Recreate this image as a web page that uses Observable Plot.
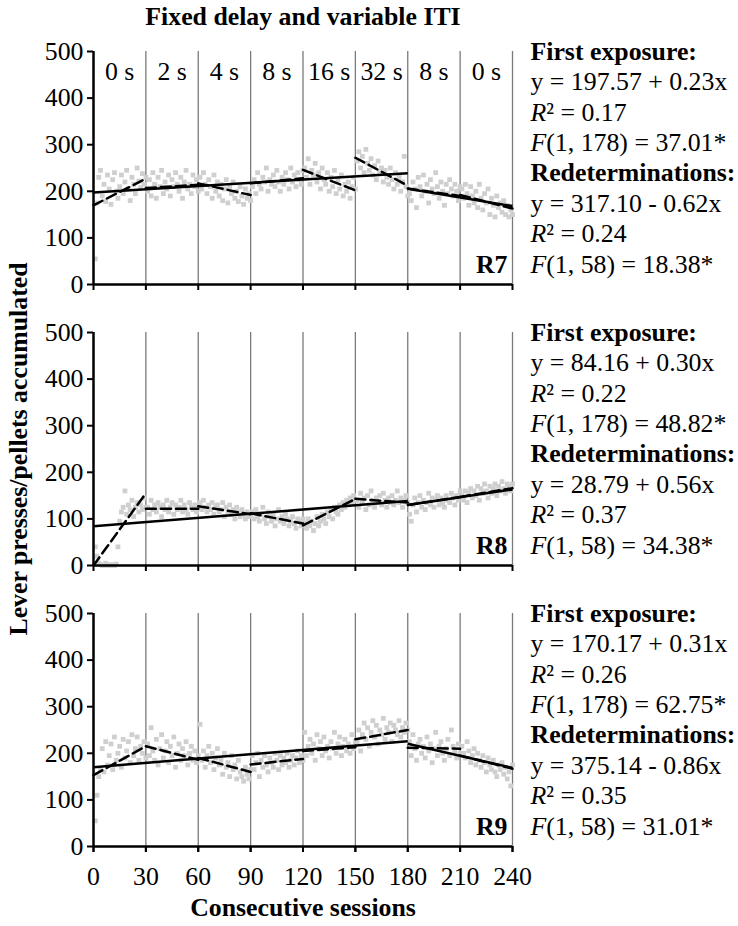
<!DOCTYPE html>
<html><head><meta charset="utf-8">
<script src="https://cdn.jsdelivr.net/npm/d3@7"></script>
<script src="https://cdn.jsdelivr.net/npm/@observablehq/plot@0.6"></script>
<style>body{margin:0;background:#fff}</style>
</head><body><div id="chart"></div>
<script>
const subjects = ["R7", "R8", "R9"];
const title = "Fixed delay and variable ITI";
const yLabel = "Lever presses/pellets accumulated";
const xLabel = "Consecutive sessions";
const phaseStarts = [0, 30, 60, 90, 120, 150, 180, 210];
const phaseLength = 30;
const phaseLabels = ["0 s", "2 s", "4 s", "8 s", "16 s", "32 s", "8 s", "0 s"];
const xTicks = [0, 30, 60, 90, 120, 150, 180, 210, 240];
const yTicks = [0, 100, 200, 300, 400, 500];

// daily values (sessions 1..240)
const r7 = [
  55,175,230,245,190,215,178,235,205,172, 225,240,200,185,210,235,195,220,245,205, 180,230,215,195,250,222,208,238,215,230,
  200,225,190,240,215,185,230,210,245,195, 220,205,235,190,225,210,240,215,200,230, 185,220,245,205,215,195,235,210,225,200,
  230,205,240,215,195,225,210,185,235,200, 220,190,215,180,205,225,175,210,195,220, 185,200,178,210,190,172,205,185,195,180,
  210,225,195,240,215,205,230,220,250,200, 225,215,235,210,245,220,200,230,215,240, 225,205,250,220,235,210,240,225,215,245,
  250,230,270,215,245,235,260,220,240,205, 250,225,215,240,200,230,210,245,195,225, 205,235,190,215,200,220,185,210,230,205,
  265,285,250,275,240,290,260,245,270,235, 255,225,265,240,250,220,245,230,215,250, 225,205,240,215,230,200,220,275,210,190,
  195,180,220,205,165,230,210,190,235,200, 215,175,225,205,195,240,210,185,220,200, 170,215,195,225,205,190,215,200,180,210,
  205,185,215,195,170,210,190,175,200,165, 215,185,160,195,175,205,150,185,170,145, 190,165,175,155,180,150,170,145,160,150
];
const r8 = [
  40,20,5,2,0,0,5,0,0,2, 0,0,3,40,95,115,125,160,110,130, 120,140,105,125,135,115,130,120,145,125,
  125,110,140,120,130,115,135,125,105,130, 120,140,115,125,135,110,130,120,125,140, 115,130,120,110,135,125,120,130,115,125,
  135,120,140,125,115,130,120,135,110,125, 130,115,120,135,105,125,115,130,110,120, 100,125,115,105,120,110,100,115,105,110,
  115,100,120,105,95,110,125,100,90,115, 105,95,110,85,100,120,95,105,90,110, 100,85,95,105,90,80,100,95,85,100,
  90,80,100,85,95,75,90,105,85,95, 110,100,90,115,105,120,100,125,115,110, 130,120,135,125,140,130,145,135,150,140,
  140,125,155,135,145,120,150,130,160,140, 125,145,135,150,130,155,140,125,145,135, 150,130,140,160,135,145,125,140,150,135,
  110,95,130,145,115,135,150,125,140,120, 135,155,130,145,125,140,150,130,145,135, 125,150,140,135,155,145,130,150,140,160,
  150,140,160,135,155,165,145,160,150,170, 140,165,155,175,160,145,170,155,165,175, 150,170,160,180,165,155,175,170,160,175
];
const r9 = [
  55,110,150,165,210,160,225,175,195,220, 165,235,185,200,215,170,230,190,205,225, 180,240,195,210,235,185,215,200,225,190,
  220,195,255,205,185,230,175,210,240,190, 205,225,180,215,195,235,170,200,220,185, 210,195,225,175,200,215,185,205,180,195,
  262,185,205,170,195,215,180,200,165,190, 210,175,185,155,200,170,180,150,195,165, 175,145,185,160,150,140,170,155,145,165,
  195,165,180,200,150,185,170,195,175,160, 190,180,170,200,185,165,195,175,190,180, 200,170,185,195,175,190,205,180,195,185,
  245,195,215,230,200,220,185,240,210,225, 195,235,205,215,190,225,210,245,200,220, 235,195,215,230,205,220,200,240,210,225,
  225,250,205,240,265,230,255,215,245,270, 235,260,220,250,240,275,230,255,245,265, 225,260,250,240,270,235,255,245,265,250,
  225,195,240,210,185,220,230,200,215,190, 235,205,220,180,210,245,195,215,225,200, 185,210,230,195,250,215,205,190,220,200,
  215,200,190,225,205,180,195,210,175,200, 185,170,195,180,160,190,175,165,185,160, 150,175,165,180,155,170,145,160,130,175
];

// per-phase trend (dashed): [value at phase start, value at phase end]
const r7Trend = [[170,227],[207,214],[217,192],[217,228],[246,202],[272,212],[206,190],[192,163]];
const r8Trend = [[0,155],[122,122],[127,110],[112,90],[86,143],[143,135],[130,147],[147,166]];
const r9Trend = [[153,215],[215,186],[190,160],[176,188],[205,213],[230,250],[212,210],[195,167]];

// regressions (solid)
const firstIntercept = [197.57, 84.16, 170.17];
const firstSlope = [0.23, 0.30, 0.31];
const firstR2 = ["0.17", "0.22", "0.26"];
const firstF = ["37.01", "48.82", "62.75"];
const redetIntercept = [317.10, 28.79, 375.14];
const redetSlope = [-0.62, 0.56, -0.86];
const redetR2 = ["0.24", "0.37", "0.35"];
const redetF = ["18.38", "34.38", "31.01"];
const firstRange = [0, 180];
const redetRange = [180, 240];

const series = [r7, r8, r9];
const trendSeries = [r7Trend, r8Trend, r9Trend];

const points = subjects.flatMap((s, k) => series[k].map((v, i) => ({subject: s, session: i + 1, value: v})));
const trends = subjects.flatMap((s, k) => trendSeries[k].flatMap(([a, b], p) => [
  {subject: s, phase: p, session: phaseStarts[p], value: a},
  {subject: s, phase: p, session: phaseStarts[p] + phaseLength, value: b}
]));
const fits = subjects.flatMap((s, k) => [
  {subject: s, x1: firstRange[0], x2: firstRange[1], a: firstIntercept[k], b: firstSlope[k]},
  {subject: s, x1: redetRange[0], x2: redetRange[1], a: redetIntercept[k], b: redetSlope[k]}
]);
const eq = (a, b) => `y = ${a.toFixed(2)} ${b < 0 ? "-" : "+"} ${Math.abs(b).toFixed(2)}x`;
const annot = subjects.map((s, k) => ({
  subject: s,
  lines: [
    "First exposure:", eq(firstIntercept[k], firstSlope[k]), `R² = ${firstR2[k]}`, `F(1, 178) = ${firstF[k]}*`,
    "Redeterminations:", eq(redetIntercept[k], redetSlope[k]), `R² = ${redetR2[k]}`, `F(1, 58) = ${redetF[k]}*`
  ]
}));

const FS = 25.8;
const lineGap = 30.4;
const annotMarks = d3.range(8).map(j => Plot.text(annot, {
  fy: "subject", text: d => d.lines[j], frameAnchor: "top-right", dx: 18, dy: j * lineGap,
  textAnchor: "start", lineAnchor: "middle", fontSize: FS, fontWeight: (j === 0 || j === 4) ? "bold" : "normal"
}));

const chart = Plot.plot({
  width: 738, height: 926,
  marginTop: 50, marginBottom: 79, marginLeft: 93, marginRight: 226,
  facet: {marginTop: 0, marginBottom: 0, marginLeft: 0, marginRight: 0},
  style: {fontFamily: "'Liberation Serif', 'Times New Roman', 'DejaVu Serif', serif", fontSize: FS + "px", color: "black", background: "white"},
  x: {domain: [0, 240]},
  y: {domain: [0, 500]},
  fy: {domain: subjects, axis: null, label: null, paddingInner: 0.171, paddingOuter: 0},
  marks: [
    Plot.ruleX(xTicks.slice(1), {stroke: "#7a7a7a", strokeWidth: 1.3}),
    Plot.dot(points, {fy: "subject", x: "session", y: "value", symbol: "square", r: 2.7, fill: "#cfcfcf", stroke: "none"}),
    Plot.line(trends, {fy: "subject", x: "session", y: "value", z: d => d.subject + d.phase, stroke: "black", strokeWidth: 2.5, strokeDasharray: "10,5"}),
    Plot.link(fits, {fy: "subject", x1: "x1", x2: "x2", y1: d => d.a + d.b * d.x1, y2: d => d.a + d.b * d.x2, stroke: "black", strokeWidth: 2.5}),
    Plot.ruleY([0], {stroke: "black", strokeWidth: 2.5}),
    Plot.ruleX([0], {stroke: "black", strokeWidth: 2.5}),
    Plot.axisY({ticks: yTicks, tickSize: 6, tickPadding: 4, fontSize: FS, label: null, strokeWidth: 2}),
    Plot.axisX({ticks: xTicks, tickSize: 6, tickFormat: () => "", facetAnchor: null, label: null, strokeWidth: 2}),
    Plot.axisX({ticks: xTicks, tickSize: 6, tickPadding: 14, fontSize: FS, label: null, strokeWidth: 2}),
    Plot.text(phaseStarts, {fy: () => "R7", x: d => d + phaseLength / 2, text: (d, i) => phaseLabels[i], frameAnchor: "top", dy: 20, lineAnchor: "middle", fontSize: FS}),
    Plot.text(subjects, {fy: d => d, text: d => d, frameAnchor: "bottom-right", dx: -5, dy: -20, textAnchor: "end", lineAnchor: "middle", fontWeight: "bold", fontSize: FS}),
    Plot.text([title], {fy: () => "R7", frameAnchor: "top", dy: -35, textAnchor: "middle", lineAnchor: "middle", fontWeight: "bold", fontSize: FS}),
    Plot.text([yLabel], {fy: () => "R8", frameAnchor: "left", dx: -75, rotate: -90, textAnchor: "middle", lineAnchor: "middle", fontWeight: "bold", fontSize: FS}),
    Plot.text([xLabel], {fy: () => "R9", frameAnchor: "bottom", dy: 61, textAnchor: "middle", lineAnchor: "middle", fontWeight: "bold", fontSize: FS}),
    ...annotMarks
  ]
});

// italicize the leading R / F of the statistics lines
const ns = "http://www.w3.org/2000/svg";
chart.querySelectorAll("text").forEach(t => {
  const host = t.querySelector("tspan") || t;
  const s = host.textContent;
  if (s.startsWith("R²") || s.startsWith("F(")) {
    host.textContent = "";
    const it = document.createElementNS(ns, "tspan");
    it.setAttribute("font-style", "italic");
    it.textContent = s[0];
    host.append(it, document.createTextNode(s.slice(1)));
  }
});
document.getElementById("chart").append(chart);
</script>
</body></html>
